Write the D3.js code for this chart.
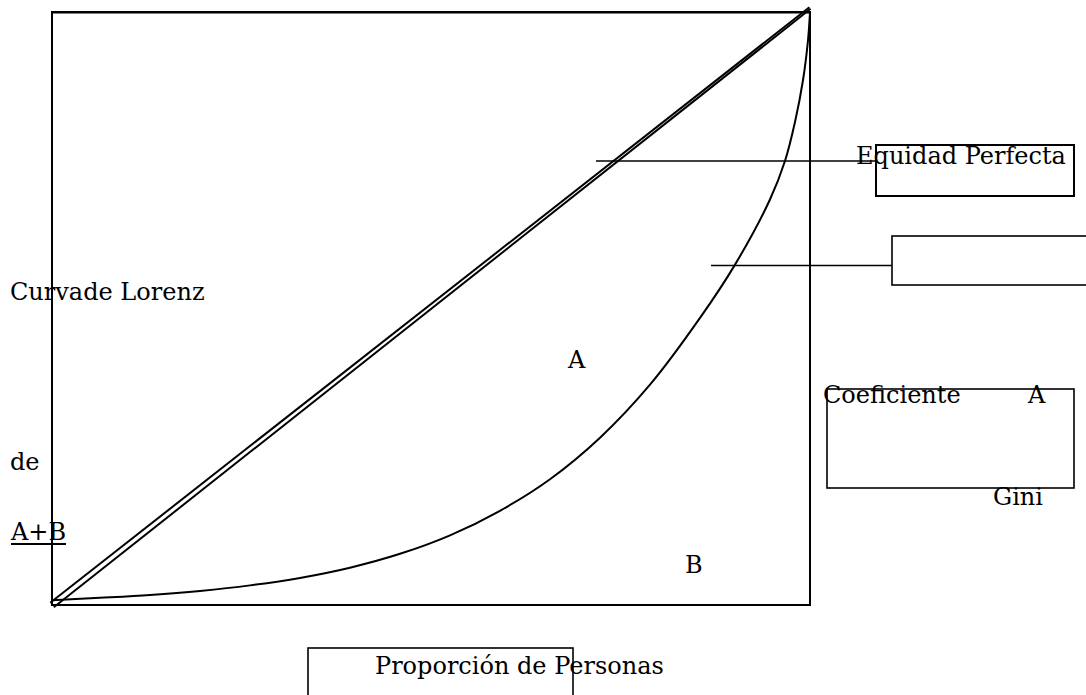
<!DOCTYPE html>
<html><head><meta charset="utf-8">
<script src="https://cdn.jsdelivr.net/npm/d3@7"></script>
<style>body{margin:0;background:#fff}svg{display:block}</style>
</head><body>
<script>
// Data (population share vs income share)
const lorenzPop    = [0, 0.0633, 0.1293, 0.1953, 0.2612, 0.3272, 0.3931, 0.4591, 0.5251, 0.5910, 0.6570, 0.7230, 0.7889, 0.8549, 0.9011, 0.9472, 0.9670, 0.9802, 0.9908, 0.9974, 1.0];
const lorenzIncome = [0.0079, 0.0121, 0.0170, 0.0238, 0.0331, 0.0457, 0.0629, 0.0863, 0.1175, 0.1589, 0.2121, 0.2821, 0.3715, 0.4841, 0.5740, 0.6838, 0.7487, 0.8145, 0.8853, 0.9528, 1.0];
const equalityPop    = [0, 1];
const equalityIncome = [0, 1];
const areaLabels = ["A", "B"];
const labelEquidad = "Equidad Perfecta";
const labelLorenz = "Curvade Lorenz";
const labelCoef = ["Coeficiente", "A", "Gini"];
const labelDe = "de";
const labelAB = "A+B";
const labelX = "Proporción de Personas";

const W = 1086, H = 695;
const svg = d3.select("body").append("svg").attr("width", W).attr("height", H);
const x = d3.scaleLinear().domain([0, 1]).range([52, 810]);
const y = d3.scaleLinear().domain([0, 1]).range([605, 12]);
const font = "'DejaVu Serif', serif";
const fs = 24;

// Frame
svg.append("rect").attr("x", x(0)).attr("y", y(1)).attr("width", x(1) - x(0)).attr("height", y(0) - y(1))
  .attr("fill", "none").attr("stroke", "#000").attr("stroke-width", 2);
svg.append("line").attr("x1", x(0)).attr("x2", x(1)).attr("y1", y(1) + 0.5).attr("y2", y(1) + 0.5)
  .attr("stroke", "#000").attr("stroke-width", 2);

// Equality double line
const eq = equalityPop.map((p, i) => [x(p), y(equalityIncome[i]) - (i ? 4 : 0)]);
const dx = eq[1][0] - eq[0][0], dy = eq[1][1] - eq[0][1], len = Math.hypot(dx, dy);
const nx = -dy / len, ny = dx / len;
[-2.4, 2.4].forEach(o => {
  svg.append("line")
    .attr("x1", eq[0][0] + nx * o * 0.2).attr("y1", eq[0][1] + ny * o * 0.2)
    .attr("x2", eq[1][0] - nx * o * 0.6).attr("y2", eq[1][1] - ny * o * 0.6)
    .attr("transform", `translate(${nx * o},${ny * o})`)
    .attr("stroke", "#000").attr("stroke-width", 2);
});

// Lorenz curve
const line = d3.line().x(d => x(d[0])).y(d => y(d[1])).curve(d3.curveCatmullRom.alpha(0.5));
svg.append("path").datum(lorenzPop.map((p, i) => [p, lorenzIncome[i]]))
  .attr("d", line).attr("fill", "none").attr("stroke", "#000").attr("stroke-width", 2);

// Callout lines and boxes
const stroke = (sel, w) => sel.attr("stroke", "#000").attr("stroke-width", w).attr("fill", "none");
stroke(svg.append("line").attr("x1", 596).attr("y1", 161).attr("x2", 877).attr("y2", 161), 1.6);
stroke(svg.append("rect").attr("x", 876).attr("y", 145).attr("width", 198).attr("height", 51), 2);
stroke(svg.append("line").attr("x1", 711).attr("y1", 265.5).attr("x2", 892).attr("y2", 265.5), 1.6);
stroke(svg.append("rect").attr("x", 892).attr("y", 236).attr("width", 220).attr("height", 49), 1.6);
stroke(svg.append("rect").attr("x", 827).attr("y", 389).attr("width", 247).attr("height", 99), 1.6);
stroke(svg.append("rect").attr("x", 308).attr("y", 648).attr("width", 265).attr("height", 80), 1.6);

// Texts
const txt = (s, tx, ty) => svg.append("text").attr("x", tx).attr("y", ty).text(s)
  .attr("font-family", font).attr("font-size", fs).attr("fill", "#000");
txt(labelEquidad, 856, 164);
txt(labelLorenz, 10, 300);
txt(labelDe, 10, 470);
txt(labelAB, 11, 540);
svg.append("line").attr("x1", 11).attr("x2", 66).attr("y1", 544).attr("y2", 544).attr("stroke", "#000").attr("stroke-width", 2);
txt(areaLabels[0], 568, 368);
txt(areaLabels[1], 685, 573);
txt(labelCoef[0], 823, 403);
txt(labelCoef[1], 1028, 403);
txt(labelCoef[2], 993, 505);
txt(labelX, 375, 674);
</script>
</body></html>
